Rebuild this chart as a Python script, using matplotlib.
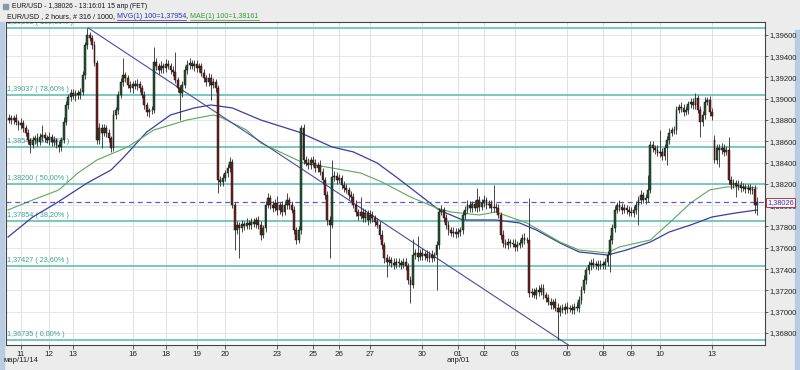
import matplotlib
matplotlib.use("Agg")
import matplotlib.pyplot as plt
from matplotlib.lines import Line2D
from matplotlib.patches import Rectangle
from matplotlib.transforms import blended_transform_factory
import numpy as np

# EUR/USD 2h candles, values in points above 1.36000 (1 point = 0.00001)
BASE = 1.36
PT = 1e-5

close = [
    2819, 2800, 2819, 2781, 2753, 2772, 2725, 2678, 2612, 2565, 2612, 2631,
    2593, 2640, 2659, 2631, 2612, 2640, 2593, 2612, 2565, 2547, 2612, 2781,
    2941, 3016, 3054, 3026, 3054, 3035, 3063, 3223, 3505, 3598, 3570, 3505,
    3335, 2612, 2725, 2678, 2725, 2678, 2631, 2537, 2847, 2894, 3035, 3157,
    3223, 3195, 3129, 3101, 3138, 3120, 3138, 3101, 3035, 2941, 2875, 2894,
    2894, 3345, 3307, 3270, 3307, 3288, 3326, 3307, 3270, 3251, 3176, 3101,
    3054, 3129, 3270, 3317, 3335, 3307, 3326, 3288, 3307, 3241, 3195, 3157,
    3195, 3129, 3157, 3101, 2237, 2218, 2256, 2303, 2349, 2405, 2002, 1767,
    1814, 1786, 1823, 1804, 1833, 1814, 1842, 1823, 1861, 1814, 1720, 1786,
    2002, 2068, 2002, 1974, 2021, 1955, 2002, 1936, 2002, 2049, 2002, 1955,
    1767, 1673, 1767, 2725, 2424, 2396, 2377, 2424, 2396, 2349, 2377, 2312,
    2237, 2096, 1861, 1814, 2265, 2274, 2237, 2256, 2190, 2162, 2143, 2096,
    2077, 2002, 1936, 1899, 1936, 1880, 1927, 1861, 1908, 1880, 1842, 1814,
    1720, 1626, 1504, 1467, 1485, 1457, 1439, 1467, 1457, 1439, 1467, 1429,
    1298, 1251, 1532, 1551, 1513, 1551, 1523, 1542, 1504, 1532, 1504, 1532,
    1626, 1936, 1955, 1880, 1814, 1767, 1739, 1748, 1729, 1748, 1767, 1908,
    1955, 2002, 1974, 2012, 1974, 2049, 1983, 2021, 2049, 2002, 2012, 1974,
    1983, 1974, 1908, 1720, 1645, 1626, 1654, 1645, 1636, 1608, 1626, 1645,
    1692, 1673, 1673, 1176, 1185, 1157, 1204, 1185, 1223, 1157, 1129, 1091,
    1063, 1091, 1035, 997, 1035, 1016, 1044, 1025, 1035, 1016, 1044, 1035,
    1110, 1204, 1298, 1392, 1439, 1457, 1439, 1448, 1429, 1448, 1439, 1467,
    1532, 1673, 1786, 1955, 2002, 1983, 1955, 1974, 1955, 1936, 1927, 1955,
    2002, 2049, 2096, 2049, 2068, 2143, 2565, 2537, 2518, 2490, 2499, 2462,
    2537, 2612, 2678, 2706, 2706, 2894, 2922, 2913, 2875, 2894, 2950, 2969,
    2941, 3007, 2894, 2781, 2847, 2969, 2988, 2875, 2838, 2424, 2537, 2518,
    2537, 2499, 2518, 2237, 2190, 2209, 2181, 2190, 2162, 2171, 2153, 2162,
    2143, 2153, 2002, 2026,
]

# wick lengths above / below the body, same units
up_wick = [
    40, 30, 25, 35, 20, 45, 30, 25, 40, 20, 35, 30,
    45, 40, 94, 30, 25, 50, 30, 35, 20, 40, 30, 45,
    40, 30, 35, 40, 25, 30, 35, 40, 30, 66, 30, 25,
    40, 30, 50, 35, 40, 30, 35, 20, 45, 30, 40, 35,
    160, 30, 25, 40, 30, 35, 45, 30, 25, 40, 30, 20,
    35, 141, 40, 30, 45, 30, 50, 35, 30, 40, 188, 30,
    25, 40, 35, 45, 50, 30, 40, 35, 30, 25, 40, 30,
    45, 35, 40, 30, 25, 40, 35, 30, 35, 47, 30, 25,
    35, 30, 40, 25, 45, 30, 35, 40, 30, 35, 40, 30,
    40, 47, 30, 40, 35, 66, 30, 40, 35, 66, 30, 35,
    40, 30, 35, 28, 40, 35, 45, 30, 40, 35, 30, 45,
    40, 30, 35, 40, 159, 45, 35, 40, 30, 35, 40, 30,
    35, 40, 45, 30, 141, 35, 40, 30, 45, 35, 30, 40,
    35, 45, 30, 40, 35, 30, 45, 35, 40, 30, 35, 40,
    30, 35, 150, 40, 160, 35, 45, 30, 40, 35, 45, 30,
    35, 40, 45, 30, 35, 40, 30, 45, 35, 40, 30, 40,
    35, 45, 40, 30, 35, 113, 40, 35, 45, 30, 40, 35,
    207, 40, 35, 30, 45, 35, 40, 30, 35, 45, 40, 35,
    40, 45, 30, 395, 35, 40, 30, 45, 35, 40, 30, 35,
    40, 30, 35, 45, 30, 40, 35, 45, 30, 40, 35, 45,
    40, 35, 45, 30, 40, 35, 45, 30, 40, 35, 30, 40,
    35, 45, 40, 35, 30, 45, 40, 35, 30, 40, 45, 35,
    40, 35, 45, 30, 40, 141, 35, 40, 30, 45, 207, 35,
    40, 35, 45, 30, 40, 35, 30, 45, 35, 40, 30, 35,
    40, 47, 30, 35, 40, 45, 30, 35, 40, 50, 35, 40,
    45, 35, 40, 122, 35, 40, 30, 45, 35, 40, 30, 35,
    40, 30, 35, 51,
]
low_wick = [
    30, 35, 40, 30, 45, 35, 40, 30, 35, 75, 30, 40,
    35, 30, 40, 35, 30, 45, 35, 40, 30, 47, 35, 30,
    30, 40, 35, 30, 45, 35, 40, 30, 35, 40, 30, 35,
    30, 40, 35, 141, 30, 40, 35, 37, 30, 35, 40, 30,
    35, 40, 30, 35, 45, 30, 40, 35, 30, 40, 35, 45,
    40, 30, 35, 40, 30, 45, 35, 30, 40, 35, 30, 40,
    254, 35, 30, 40, 35, 30, 45, 35, 40, 30, 35, 40,
    35, 141, 30, 40, 122, 35, 40, 30, 35, 40, 30, 188,
    40, 282, 35, 40, 30, 35, 40, 30, 35, 40, 45, 30,
    35, 30, 40, 35, 30, 45, 35, 40, 30, 35, 40, 30,
    35, 40, 30, 35, 40, 30, 35, 40, 30, 35, 40, 30,
    35, 40, 45, 310, 30, 35, 40, 30, 35, 40, 30, 35,
    40, 30, 35, 40, 30, 35, 40, 45, 30, 35, 40, 30,
    35, 40, 45, 141, 30, 35, 40, 30, 35, 40, 30, 35,
    40, 169, 30, 35, 40, 30, 35, 40, 30, 35, 40, 30,
    328, 40, 30, 35, 40, 45, 30, 35, 40, 30, 35, 40,
    35, 30, 40, 35, 30, 40, 35, 30, 40, 35, 30, 40,
    35, 40, 30, 35, 40, 30, 35, 40, 30, 35, 40, 30,
    35, 40, 30, 35, 40, 30, 35, 40, 30, 35, 40, 30,
    35, 40, 30, 263, 40, 30, 35, 40, 30, 35, 40, 30,
    35, 40, 30, 35, 40, 45, 30, 35, 40, 30, 35, 40,
    35, 159, 40, 35, 30, 40, 35, 30, 40, 35, 30, 40,
    35, 188, 40, 30, 35, 40, 30, 35, 40, 30, 35, 40,
    35, 160, 40, 30, 35, 40, 30, 35, 40, 30, 35, 40,
    35, 40, 30, 141, 35, 40, 30, 35, 40, 30, 35, 159,
    35, 40, 30, 35, 40, 30, 104, 35, 40, 30, 35, 40,
    35, 40, 75, 94,
]
first_open = 2800
gap_open = {297: 2612}  # weekend gap

# moving averages (candle index, points)
mvg_x = [-0.4, 10, 20, 33, 43, 48, 58, 68, 78, 85, 94, 106, 122, 136, 145, 155,
         163, 174, 181, 191, 205, 215, 222, 232, 240, 252, 260, 270, 278, 287, 296, 306, 315]
mvg_v = [1701, 1889, 2021, 2209, 2331, 2443, 2687, 2847, 2913, 2941, 2913, 2800, 2687,
         2547, 2500, 2396, 2265, 2077, 1955, 1861, 1861, 1833, 1767, 1645, 1561, 1532,
         1579, 1654, 1748, 1814, 1889, 1927, 1955]
mae_x = [-0.4, 10, 21, 29, 37, 50, 61, 75, 86, 89, 100, 106, 124, 136, 148, 157,
         169, 180, 186, 198, 205, 218, 232, 240, 252, 257, 270, 278, 287, 295, 302, 311, 315]
mae_v = [1955, 2049, 2143, 2302, 2424, 2547, 2706, 2800, 2847, 2828, 2706, 2584, 2396,
         2349, 2302, 2218, 2077, 1974, 1936, 1908, 1936, 1833, 1654, 1579, 1551, 1608,
         1673, 1833, 2021, 2143, 2171, 2171, 2161]

fib_levels = [1.39665, 1.39037, 1.38546, 1.38200, 1.37854, 1.37427, 1.36735]
fib_labels = ["1,39665 ( 100,00% )", "1,39037 ( 78,60% )", "1,38546 ( 61,80% )",
              "1,38200 ( 50,00% )", "1,37854 ( 38,20% )", "1,37427 ( 23,60% )",
              "1,36735 ( 0,00% )"]

trend_x = [33.3, 237.0]
trend_p = [1.39665, 1.36665]

last_price = 1.38026

day_ticks = [5, 17, 27, 52, 66, 79, 91, 113, 128, 139, 152, 174, 189, 200, 213, 235,
             250, 262, 274, 296]
day_labels = ["11", "12", "13", "16", "18", "19", "20", "23", "25", "26", "27", "30",
              "01", "02", "03", "06", "08", "09", "10", "13"]
month_labels = {5: "мар/11/14", 189: "апр/01"}

FONT = "Liberation Sans"


def main():
    W, H = 800, 370
    fig = plt.figure(figsize=(W / 100, H / 100), dpi=100, facecolor="#ececec")
    ax = fig.add_axes([6 / W, 25 / H, 759 / W, 323 / H])
    ax.set_facecolor("white")

    c = np.array(close, dtype=float)
    o = np.empty_like(c)
    o[0] = first_open
    o[1:] = c[:-1]
    for k, v in gap_open.items():
        o[k] = v
    top = np.maximum(o, c)
    bot = np.minimum(o, c)
    hi = top + np.array(up_wick)
    lo = bot - np.array(low_wick)
    x = np.arange(len(c))

    to_p = lambda a: BASE + np.asarray(a, dtype=float) * PT

    ax.set_xlim(-1.26, 318.3)
    ax.set_ylim(1.36687, 1.39720)

    # grid
    for t in day_ticks:
        ax.axvline(t, color="#dadada", lw=0.6, zorder=0)
    yt = np.arange(1.368, 1.3961, 0.002)
    for y in yt:
        ax.axhline(y, color="#e2e2e2", lw=0.6, zorder=0)

    # fibonacci levels
    for lev, lab in zip(fib_levels, fib_labels):
        ax.axhline(lev, color="#6cc6b8", lw=1.3, zorder=1)
        ax.text(-0.9, lev + 0.00018, lab, fontsize=5.2, color="#3d9f92",
                family=FONT, va="bottom", ha="left", clip_on=True, zorder=1)

    # moving averages and trend line
    ax.plot(mvg_x, to_p(mvg_v), color="#3b3ba6", lw=0.9, zorder=2)
    ax.plot(mae_x, to_p(mae_v), color="#59a85c", lw=0.8, zorder=2)
    ax.plot(trend_x, trend_p, color="#4a4aa8", lw=0.8, zorder=2)

    # candles
    up = c >= o
    ax.vlines(x, to_p(lo), to_p(hi), color="#2a2a2a", lw=0.6, zorder=3)
    body_h = np.maximum(top - bot, 3)
    ax.bar(x, body_h * PT, bottom=to_p(bot), width=0.75,
           color=np.where(up, "#1f5a31", "#7a1d1d"), edgecolor="#111111",
           linewidth=0.35, zorder=4)

    # current price
    ax.axhline(last_price, color="#5a5ac8", lw=0.9, ls=(0, (4, 3)), zorder=2)
    ax.text(1.003, last_price, "1,38026", transform=blended_transform_factory(ax.transAxes, ax.transData),
            fontsize=5.3, color="#2a2ad0", family=FONT, va="center", ha="left", zorder=6,
            bbox=dict(boxstyle="square,pad=0.15", fc="white", ec="#d03030", lw=0.7), clip_on=False)

    # axes styling
    for s in ax.spines.values():
        s.set_color("#444444")
        s.set_linewidth(0.8)
    ax.yaxis.tick_right()
    ax.set_yticks(yt)
    ax.set_yticklabels([f"{v:.5f}".replace(".", ",") for v in yt])
    ax.set_xticks(day_ticks)
    ax.set_xticklabels(day_labels)
    ax.tick_params(axis="x", length=3, width=0.6, color="#444444", labelsize=5.8,
                   labelcolor="#222222", pad=1.5)
    ax.tick_params(axis="y", length=2.5, width=0.6, color="#444444", labelsize=5.5,
                   labelcolor="#222222", pad=0.8)
    for t in ax.get_xticklabels() + ax.get_yticklabels():
        t.set_family(FONT)
    tr = blended_transform_factory(ax.transData, ax.transAxes)
    for k, lab in month_labels.items():
        ax.text(k, -0.038, lab, transform=tr, fontsize=5.6, family=FONT, color="#222222",
                ha="center", va="top")

    # window frame strips
    fig.add_artist(Rectangle((0, 0), 4 / W, 1 - 22 / H, transform=fig.transFigure,
                             color="#b8cce4", zorder=0))
    fig.add_artist(Rectangle((795 / W, 0), 5 / W, 1 - 30 / H, transform=fig.transFigure,
                             color="#b8cce4", zorder=0))

    # header
    fig.text(12 / W, 1 - 6 / H, "EUR/USD - 1,38026 - 13:16:01 15 апр (FET)", fontsize=4.9,
             family=FONT, color="#111111", va="center")
    fig.add_artist(Rectangle((3 / W, 1 - 9 / H), 5 / W, 5 / H, transform=fig.transFigure,
                             color="#8899aa", zorder=1))
    fig.canvas.draw()
    r = fig.canvas.get_renderer()
    pieces = [("EUR/USD , 2 hours, # 316 / 1000, ", "#111111", False),
              ("MVG(1) 100=1,37954", "#3030b0", True),
              (", ", "#111111", False),
              ("MAE(1) 100=1,38161", "#3a9a3a", True)]
    xpos = 7 / W
    ybase = 1 - 18.5 / H
    for txt, col, ul in pieces:
        t = fig.text(xpos, ybase, txt, fontsize=5.1, family=FONT, color=col, va="baseline")
        bb = t.get_window_extent(r)
        if ul:
            fig.add_artist(Line2D([bb.x0 / W, bb.x1 / W], [ybase - 1.2 / H] * 2,
                                  color=col, lw=0.5))
        xpos = bb.x1 / W

    fig.savefig("out.png", dpi=100, facecolor=fig.get_facecolor())


if __name__ == "__main__":
    main()
